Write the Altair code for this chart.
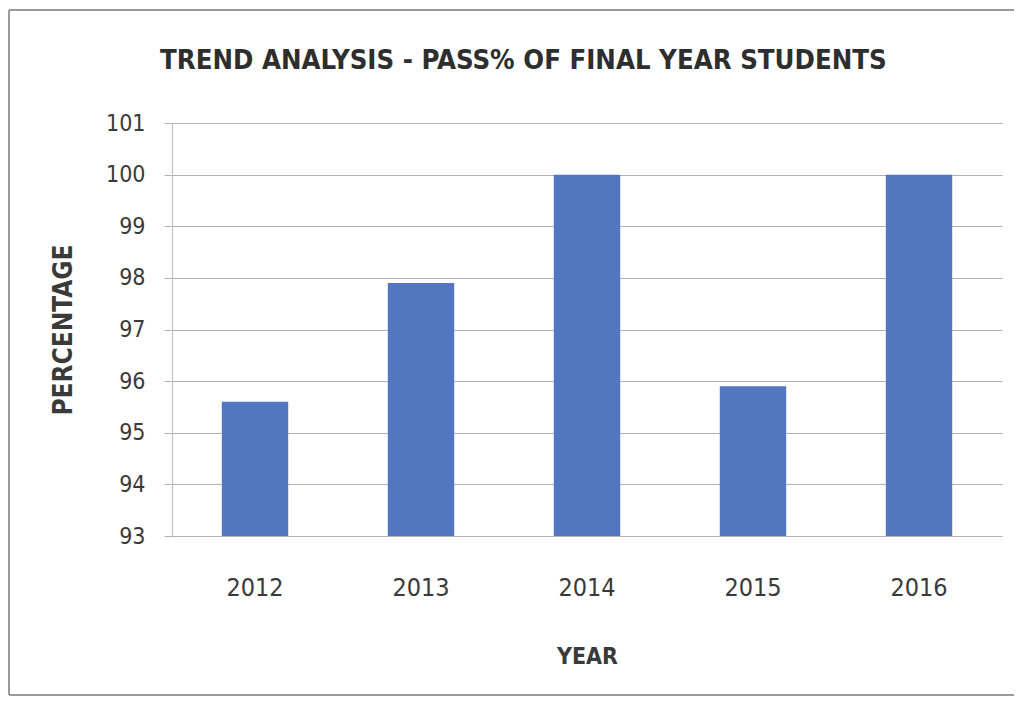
import altair as alt
import pandas as pd

years = ["2012", "2013", "2014", "2015", "2016"]
pass_pct = [95.6, 97.9, 100.0, 95.9, 100.0]
y_ticks = [93, 94, 95, 96, 97, 98, 99, 100, 101]

df = pd.DataFrame({"YEAR": years, "PERCENTAGE": pass_pct})

FONT = "DejaVu Sans Condensed, DejaVu Sans, sans-serif"
TEXT = "#3a3a3a"
GRID = "#b5afbd"

bars = alt.Chart(df).mark_bar(color="#5276c0", clip=True).encode(
    x=alt.X("YEAR:N", sort=years,
            scale=alt.Scale(paddingInner=0.6, paddingOuter=0.3),
            axis=alt.Axis(title="YEAR", labelAngle=0, ticks=False, domain=False,
                          labelPadding=39, titlePadding=45,
                          labelFontSize=25, titleFontSize=23,
                          labelColor=TEXT, titleColor=TEXT,
                          labelFont=FONT, titleFont=FONT, titleFontWeight="bold")),
    y=alt.Y("PERCENTAGE:Q",
            scale=alt.Scale(domain=[93, 101], zero=False, nice=False),
            axis=alt.Axis(title="PERCENTAGE", values=y_ticks, grid=True,
                          gridColor=GRID, gridWidth=1.2,
                          domain=True, domainColor="#c4bfcb", domainWidth=1.2,
                          ticks=True, tickSize=8, tickColor=GRID,
                          labelPadding=19, titlePadding=29,
                          labelFontSize=23, titleFontSize=26,
                          labelColor=TEXT, titleColor=TEXT,
                          labelFont=FONT, titleFont=FONT, titleFontWeight="bold")),
)

frame_df = pd.DataFrame({"k": [0]})
frame_color = "#9a9a9a"
left = alt.Chart(frame_df).mark_rule(color=frame_color, strokeWidth=2, clip=False).encode(
    x=alt.value(-163), y=alt.value(-113), y2=alt.value(572))
top = alt.Chart(frame_df).mark_rule(color=frame_color, strokeWidth=2, clip=False).encode(
    x=alt.value(-163), x2=alt.value(860), y=alt.value(-113))
bottom = alt.Chart(frame_df).mark_rule(color=frame_color, strokeWidth=2, clip=False).encode(
    x=alt.value(-163), x2=alt.value(860), y=alt.value(572))

chart = alt.layer(bars, left, top, bottom).properties(
    width=830, height=413,
    background="white",
    title=alt.TitleParams("TREND ANALYSIS - PASS% OF FINAL YEAR STUDENTS",
                          anchor="start", frame="group", dx=-12, offset=-87,
                          baseline="alphabetic",
                          fontSize=27.3, font=FONT, fontWeight="bold", color="#2e2e2e"),
    autosize=alt.AutoSizeParams(type="none"),
    padding={"left": 164, "top": 115, "right": 12, "bottom": 160},
).configure_view(strokeWidth=0)

chart.save("out.html", embed_options={"renderer": "svg", "actions": False})
